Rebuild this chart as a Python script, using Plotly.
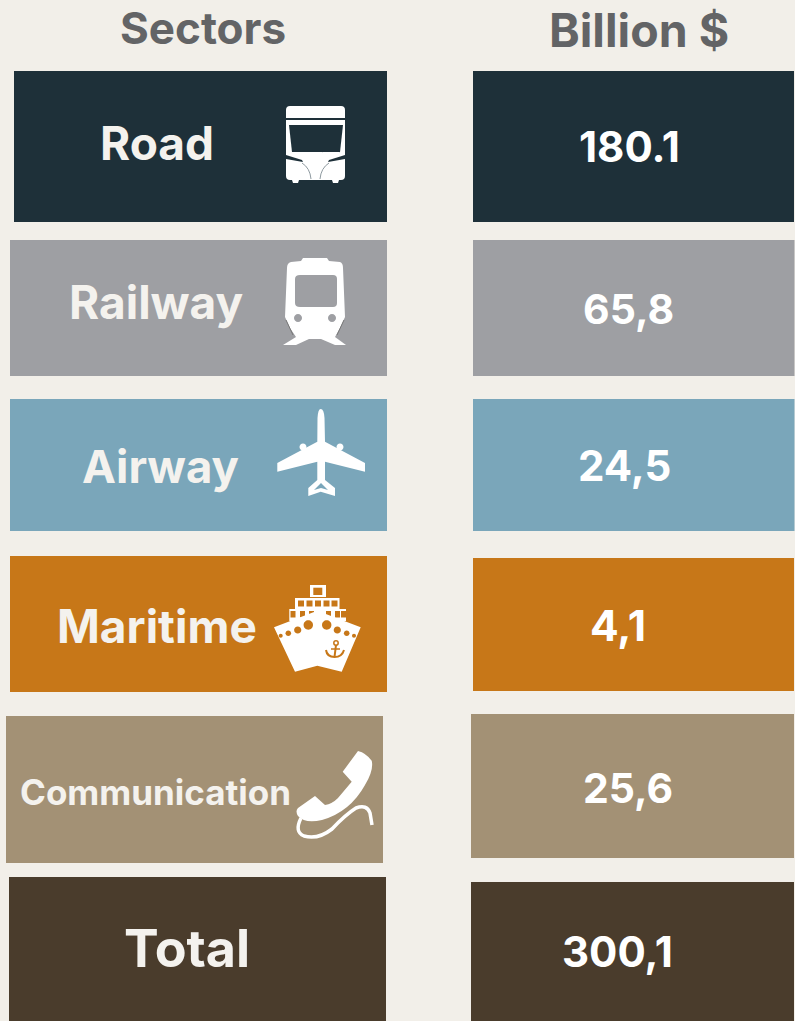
import plotly.graph_objects as go

# ---- data ----
sectors = ["Road", "Railway", "Airway", "Maritime", "Communication", "Total"]
values = ["180.1", "65,8", "24,5", "4,1", "25,6", "300,1"]
header_left = "Sectors"
header_right = "Billion $"

# ---- style / layout ----
BG = "#f2efe9"
colors = ["#1e3039", "#9e9fa3", "#7aa6ba", "#c77718", "#a39175", "#4a3c2c"]
left_boxes = [(14, 387, 71, 222), (10, 387, 240, 376), (10, 387, 399, 531),
              (10, 387, 556, 692), (6, 383, 716, 863), (9, 386, 877, 1021)]
right_boxes = [(473, 794, 71, 222), (473, 794.5, 240, 376), (473, 794.5, 399, 531),
               (473, 794, 558, 691), (471, 794, 714, 858), (471, 794, 882, 1021)]
label_pos = [(157, 143, 46), (156, 302, 46), (160, 466, 45.5), (157, 626, 46), (155, 792, 35), (187, 948, 52)]
value_pos = [(629.5, 146, 42), (628, 309, 41), (624.5, 465, 42), (618, 625, 42.5), (628, 788, 41), (617, 951, 42)]
label_colors = ["#f4f2ee"] * 6
FONT = "Inter"
W = "#ffffff"

def circle(cx, cy, r):
    k = 0.5523 * r
    return (f"M{cx-r},{cy} C{cx-r},{cy-k} {cx-k},{cy-r} {cx},{cy-r} C{cx+k},{cy-r} {cx+r},{cy-k} {cx+r},{cy} "
            f"C{cx+r},{cy+k} {cx+k},{cy+r} {cx},{cy+r} C{cx-k},{cy+r} {cx-r},{cy+k} {cx-r},{cy} Z")

def rect(x0, x1, y0, y1):
    return f"M{x0},{y0} L{x1},{y0} L{x1},{y1} L{x0},{y1} Z"

icons = []
def add(path, fill=W, line=None, width=0):
    icons.append(dict(type="path", path=path, xref="x", yref="y", layer="above",
                      fillcolor=fill if fill else "rgba(0,0,0,0)",
                      line=dict(color=line or "rgba(0,0,0,0)", width=width)))

# bus
c = colors[0]
add("M290,106 L341,106 Q345,106 345,110 L345,176 Q345,180 341,180 L339,180 L338,183 L333,183 L332,180 "
    "L299,180 L298,183 L293,183 L292,180 L290,180 Q286,180 286,176 L286,110 Q286,106 290,106 Z")
add(rect(286, 345, 118, 120), c)
add("M289,125 L343,125 L340,152 L292,152 Z", c)
add("M286,155 L302,160 L303,162 L286,159 Z", c)
add("M345,155 L329,160 L328,162 L345,159 Z", c)
add("M322,152 Q331,142 340,152", None, c, 1)
add("M302,163 Q310,168 311,179", None, "#8f9aa0", 1)
add("M329,163 Q321,168 320,179", None, "#8f9aa0", 1)
# train
c = colors[1]
add("M303,258 L327,258 L329,261 L340,262 Q343,263 343,268 L345,317 L340,328 L335,337 L346,345 L335,345 L321,339 "
    "L309,339 L296,345 L283,345 L296,337 L290,328 L285,317 L287,268 Q287,263 291,262 L301,261 Z")
add("M300,275 L333,275 Q337,275 337,279 L337,303 Q337,307 333,307 L300,307 Q295,307 295,303 L295,279 Q295,275 300,275 Z", c)
add(circle(298, 318, 4), c)
add(circle(332, 318, 4), c)
add("M286,320 L293,335", None, "#777", 1)
add("M344,320 L337,335", None, "#777", 1)
# airplane
c = colors[2]
add("M317.5,418 Q318,409 320.7,409 Q324,409 324.5,418 L325,441.7 L365,463 L365,471.7 L325,461.7 L325,480 L335,488 L335,496 "
    "L320.7,491.7 L308.3,496 L308.3,488 L317.3,480 L317.3,461.7 L277.3,471.7 L277.3,463 L317.3,441.7 Z")
add(circle(303, 447, 3.5))
add(circle(340, 447, 3.5))
add("M314,490 L321,483 L328,490 L321,488 Z", c)
# ship
c = colors[3]
add(rect(310, 326, 585, 597))
add(rect(313.3, 322.3, 587.7, 595), c)
add(rect(295, 339.5, 598, 609))
add(rect(289.3, 346, 609, 621))
for x0 in (298, 306.5, 315, 323.5, 331.5):
    add(rect(x0, x0 + 6, 600.5, 606.5), c)
for x0 in (290.5, 300, 309, 326, 335, 341):
    add(rect(x0, x0 + 5, 611, 617.5), c)
add("M274,627.3 L317.3,610.7 L360.7,627.3 L341.7,671.7 L317.3,665.7 L295,671.7 Z")
for cx, cy, r in [(308.3, 625, 4.7), (326.7, 625, 4.7), (297.7, 630, 3.6), (337.3, 630, 3.6),
                  (288.3, 633.3, 2.8), (346.7, 633.3, 2.8), (280.7, 635.7, 2), (354, 635.7, 2)]:
    add(circle(cx, cy, r), c)
add(circle(336, 643, 2.2), None, c, 1.5)
add("M336,645 L334.5,657", None, c, 2)
add("M326,650 Q327,657 334.5,657 Q342,657 344,650", None, c, 2)
add("M331,649 L340,649", None, c, 1.5)
# phone
add("M358,751 Q366,753 371.7,760.7 Q374,770 365,785 Q350,812 322,820 Q305,824 298,816 Q295,811 298,808 L315,796 "
    "L325,805 Q332,804 338,798 L351.7,781.7 L342.7,771.7 Z")
add("M301,818 Q294,832 304,836 Q318,840 332,829 Q345,815 356,808 Q367,804 370,813 L372,825", None, W, 3.5)

shapes = []
for box, col in zip(left_boxes + right_boxes, colors + colors):
    x0, x1, y0, y1 = box
    shapes.append(dict(type="rect", xref="x", yref="y", x0=x0, x1=x1, y0=y0, y1=y1,
                       fillcolor=col, line=dict(width=0), layer="below"))

ann = []
def text(x, y, s, size, color):
    ann.append(dict(x=x, y=y, xref="x", yref="y", text=f"<b>{s}</b>", showarrow=False, xanchor="center", yanchor="middle",
                    font=dict(family=FONT, size=size, color=color)))

text(203, 28, header_left, 44, "#636466")
text(639, 30, header_right, 46.5, "#636466")
for s, (x, y, z), col in zip(sectors, label_pos, label_colors):
    text(x, y, s, z, col)
for s, (x, y, z) in zip(values, value_pos):
    text(x, y, s, z, "#ffffff")

fig = go.Figure()
fig.add_trace(go.Scatter(x=[0, 795], y=[0, 1021], mode="markers", marker=dict(opacity=0), hoverinfo="skip", showlegend=False))
fig.update_layout(width=795, height=1021, margin=dict(l=0, r=0, t=0, b=0), paper_bgcolor=BG, plot_bgcolor=BG,
                  shapes=shapes + icons, annotations=ann,
                  xaxis=dict(visible=False, range=[0, 795], fixedrange=True),
                  yaxis=dict(visible=False, range=[1021, 0], fixedrange=True))
fig.write_html("out.html", config={"displayModeBar": False}, default_height=1021, default_width=795,
               post_script="document.body.style.margin='0';")
